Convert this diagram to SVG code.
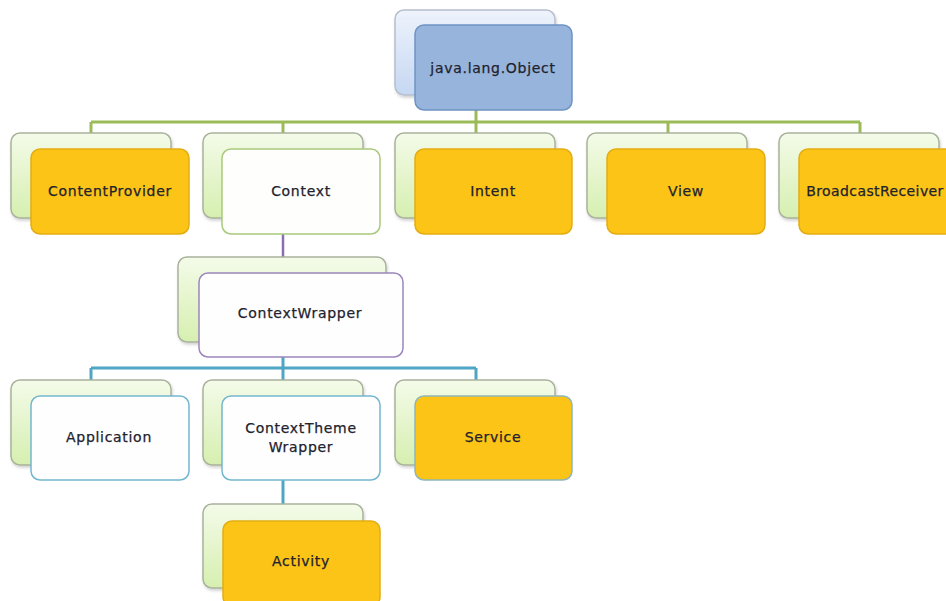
<svg xmlns="http://www.w3.org/2000/svg" width="946" height="601" viewBox="0 0 946 601">
  <defs>
    <linearGradient id="gBack" x1="0" y1="0" x2="0" y2="1">
      <stop offset="0" stop-color="#f4fbe9"/>
      <stop offset="1" stop-color="#d6efb0"/>
    </linearGradient>
    <linearGradient id="gBackBlue" x1="0" y1="0" x2="0" y2="1">
      <stop offset="0" stop-color="#eef3fc"/>
      <stop offset="1" stop-color="#c5d7f2"/>
    </linearGradient>
    <filter id="shadow" x="-10%" y="-10%" width="130%" height="130%">
      <feDropShadow dx="1" dy="2" stdDeviation="1.5" flood-color="#000" flood-opacity="0.18"/>
    </filter>
  </defs>
  <style>
    .back { fill: url(#gBack); stroke: #a9b39c; stroke-width: 1.5; filter: url(#shadow); }
    .backBlue { fill: url(#gBackBlue); stroke: #b7bfcc; stroke-width: 1.5; filter: url(#shadow); }
    .orange { fill: #fcc416; stroke: #e3ad12; stroke-width: 1.5; }
    .blueFront { fill: #97b5dc; stroke: #6f93c3; stroke-width: 1.5; }
    .whiteGreen { fill: #fefffc; stroke: #a9c97c; stroke-width: 1.5; }
    .whitePurple { fill: #fefefe; stroke: #9c86bb; stroke-width: 1.5; }
    .whiteBlue { fill: #fefefe; stroke: #74b6cf; stroke-width: 1.5; }
    .label { font-family: "DejaVu Sans", Verdana, sans-serif; font-size: 14px; letter-spacing: 0.7px; fill: #22222e; stroke: #22222e; stroke-width: 0.25; text-anchor: middle; }
    .green { stroke: #9bbb59; stroke-width: 3; fill: none; }
    .purple { stroke: #8a6fb0; stroke-width: 2.5; fill: none; }
    .blue { stroke: #4fa6c4; stroke-width: 3; fill: none; }
  </style>

  <!-- connectors -->
  <g id="connectors">
    <path class="green" d="M476 95 V122 M91 122 H860 M91 122 V134 M283 122 V134 M476 122 V134 M668 122 V134 M860 122 V134"/>
    <path class="purple" d="M283 234 V258"/>
    <path class="blue" d="M283 357 V368 M91 368 H476 M91 368 V381 M283 368 V381 M476 368 V381"/>
    <path class="blue" d="M283 480 V504"/>
  </g>

  <g id="node-object">
    <rect class="backBlue" x="395" y="10" width="160" height="85" rx="9"/>
    <rect class="blueFront" x="415" y="25" width="157" height="85" rx="9"/>
    <text class="label" x="493" y="73">java.lang.Object</text>
  </g>

  <g id="node-contentprovider">
    <rect class="back" x="11" y="133" width="160" height="85" rx="9"/>
    <rect class="orange" x="31" y="149" width="158" height="85" rx="9"/>
    <text class="label" x="110" y="196">ContentProvider</text>
  </g>

  <g id="node-context">
    <rect class="back" x="203" y="133" width="160" height="85" rx="9"/>
    <rect class="whiteGreen" x="222" y="149" width="158" height="85" rx="9"/>
    <text class="label" x="301" y="196">Context</text>
  </g>

  <g id="node-intent">
    <rect class="back" x="395" y="133" width="160" height="85" rx="9"/>
    <rect class="orange" x="415" y="149" width="157" height="85" rx="9"/>
    <text class="label" x="493" y="196">Intent</text>
  </g>

  <g id="node-view">
    <rect class="back" x="587" y="133" width="160" height="85" rx="9"/>
    <rect class="orange" x="607" y="149" width="158" height="85" rx="9"/>
    <text class="label" x="686" y="196">View</text>
  </g>

  <g id="node-broadcastreceiver">
    <rect class="back" x="779" y="133" width="160" height="85" rx="9"/>
    <rect class="orange" x="799" y="149" width="158" height="85" rx="9"/>
    <text class="label" x="875" y="196" style="letter-spacing:0.4px">BroadcastReceiver</text>
  </g>

  <g id="node-contextwrapper">
    <rect class="back" x="178" y="257" width="208" height="85" rx="9"/>
    <rect class="whitePurple" x="199" y="273" width="204" height="84" rx="9"/>
    <text class="label" x="300" y="318">ContextWrapper</text>
  </g>

  <g id="node-application">
    <rect class="back" x="11" y="380" width="160" height="85" rx="9"/>
    <rect class="whiteBlue" x="31" y="396" width="158" height="84" rx="9"/>
    <text class="label" x="109" y="442">Application</text>
  </g>

  <g id="node-contextthemewrapper">
    <rect class="back" x="203" y="380" width="160" height="85" rx="9"/>
    <rect class="whiteBlue" x="222" y="396" width="158" height="84" rx="9"/>
    <text class="label" x="301" y="433">ContextTheme</text>
    <text class="label" x="301" y="452">Wrapper</text>
  </g>

  <g id="node-service">
    <rect class="back" x="395" y="380" width="160" height="85" rx="9"/>
    <rect class="orange" x="415" y="396" width="157" height="84" rx="9" style="stroke:#8fb6b8"/>
    <text class="label" x="493" y="442">Service</text>
  </g>

  <g id="node-activity">
    <rect class="back" x="203" y="504" width="160" height="84" rx="9"/>
    <rect class="orange" x="223" y="521" width="157" height="85" rx="9"/>
    <text class="label" x="301" y="566">Activity</text>
  </g>
</svg>
